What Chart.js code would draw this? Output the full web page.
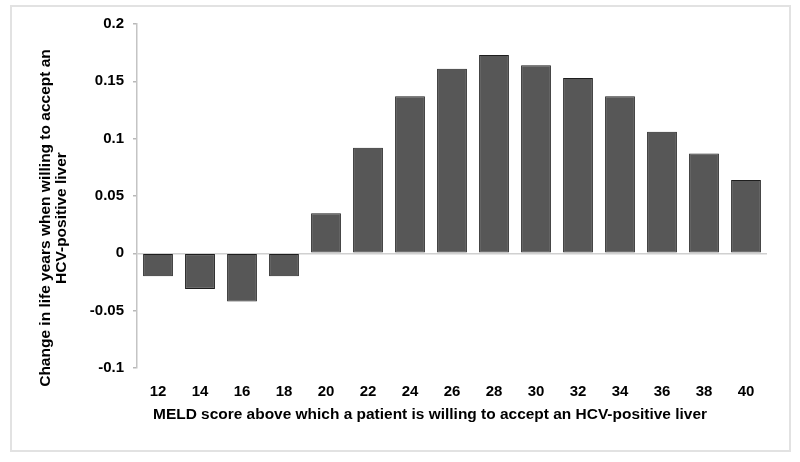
<!DOCTYPE html>
<html>
<head>
<meta charset="utf-8">
<script src="https://cdn.jsdelivr.net/npm/chart.js@4/dist/chart.umd.min.js"></script>
<style>
  body { margin: 0; background: #fff; }
  #wrap { position: relative; width: 800px; height: 462px; }
  #frame { position: absolute; left: 10px; top: 5px; width: 777px; height: 443px;
           border: 2px solid #e2e2e2; pointer-events: none; }
</style>
</head>
<body>
<div id="wrap">
  <canvas id="meldChart" width="800" height="462"></canvas>
  <div id="frame"></div>
</div>
<script>
// data
var meldScores = ["12", "14", "16", "18", "20", "22", "24", "26", "28", "30", "32", "34", "36", "38", "40"];
var lifeYearChange = [-0.02, -0.031, -0.042, -0.02, 0.035, 0.092, 0.137, 0.161, 0.173, 0.164, 0.153, 0.137, 0.106, 0.087, 0.064];
var yTickValues = [-0.1, -0.05, 0, 0.05, 0.1, 0.15, 0.2];
var yTitleLines = ["Change in life years when willing to accept an", "HCV-positive liver"];
var xTitle = "MELD score above which a patient is willing to accept an HCV-positive liver";

var boldFont = { family: "Arial, 'Liberation Sans', sans-serif", size: 15, weight: 'bold' };

// axis titles sit off-centre in the original, so paint both ourselves
var titlePlugin = {
  id: 'axisTitles',
  afterDraw: function (chart) {
    var ctx = chart.ctx;
    ctx.save();
    ctx.fillStyle = '#000';
    ctx.font = 'bold 15.5px Arial, "Liberation Sans", sans-serif';
    ctx.textAlign = 'center';
    ctx.textBaseline = 'middle';
    [46, 62].forEach(function (x, i) {
      ctx.save();
      ctx.translate(x, 218);
      ctx.rotate(-Math.PI / 2);
      ctx.fillText(yTitleLines[i], 0, 0);
      ctx.restore();
    });

    ctx.font = 'bold 15.5px Arial, "Liberation Sans", sans-serif';
    ctx.textAlign = 'left';
    var w = ctx.measureText(xTitle).width;
    ctx.translate(153, 415);
    ctx.scale(554 / w, 1);
    ctx.fillText(xTitle, 0, 0);
    ctx.restore();
  }
};

var ctx = document.getElementById("meldChart").getContext('2d');
var chart = new Chart(ctx, {
  type: 'bar',
  data: {
    labels: meldScores,
    datasets: [{
      data: lifeYearChange,
      backgroundColor: '#575757',
      borderColor: '#1e1e1e',
      borderWidth: 1,
      borderSkipped: false,
      barPercentage: 0.71,
      categoryPercentage: 1.0
    }]
  },
  options: {
    responsive: false,
    animation: false,
    layout: { padding: { left: 0, right: 33, top: 24, bottom: 0 } },
    plugins: {
      legend: { display: false },
      tooltip: { enabled: false }
    },
    scales: {
      x: {
        grid: { display: false },
        border: { display: false },
        ticks: { color: '#000', font: { family: "Arial, 'Liberation Sans', sans-serif", size: 15, weight: 'bold' }, padding: 7, maxRotation: 0, autoSkip: false },
        afterFit: function (scale) { scale.height = 94; }
      },
      y: {
        min: -0.1,
        max: 0.2,
        afterBuildTicks: function (scale) {
          scale.ticks = yTickValues.map(function (v) { return { value: v }; });
        },
        ticks: {
          color: '#000',
          font: boldFont,
          padding: 9,
          callback: function (v) { return String(Number(v.toFixed(2))); }
        },
        grid: {
          color: function (c) { return c.tick && c.tick.value === 0 ? '#d0d0d0' : 'rgba(0,0,0,0)'; },
          tickColor: '#b8b8b8',
          tickLength: 4,
          lineWidth: 1.5
        },
        border: { display: true, color: '#c4c4c4', width: 1.5 },
        afterFit: function (scale) { scale.width = 137; }
      }
    }
  },
  plugins: [titlePlugin]
});
</script>
</body>
</html>
